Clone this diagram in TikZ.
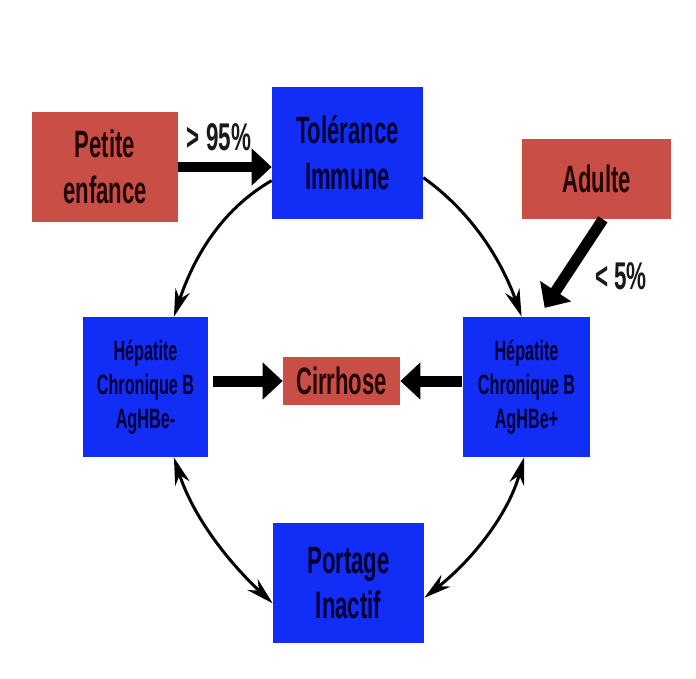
\documentclass[tikz,border=0pt]{standalone}
\usepackage{fontspec}
\setmainfont{Liberation Sans}[FakeStretch=0.58]
\usetikzlibrary{arrows.meta}
\definecolor{boxblue}{RGB}{18,45,245}
\definecolor{boxred}{RGB}{200,78,70}
\definecolor{inkblue}{RGB}{0,0,50}
\definecolor{inkred}{RGB}{35,6,6}
\definecolor{inkgray}{RGB}{25,25,25}
\begin{document}
\begin{tikzpicture}[x=0.02cm,y=-0.02cm,
    stage/.style={fill=boxblue,text=inkblue,inner sep=0pt,align=center,
      font=\bfseries\fontsize{21.7}{26}\selectfont},
    hepbox/.style={stage,minimum width=2.5cm,minimum height=2.8cm,
      font=\bfseries\fontsize{15.9}{19.3}\selectfont},
    sourcebox/.style={fill=boxred,text=inkred,inner sep=0pt,align=center,
      font=\bfseries\fontsize{21.7}{26}\selectfont},
    ratelabel/.style={text=inkgray,font=\bfseries\fontsize{22}{24}\selectfont},
    bigarrow/.style={line width=0.22cm,-{Triangle[length=0.4cm,width=0.72cm]}},
    cyclearrow/.style={line width=0.06cm,>={Stealth[length=0.55cm,width=0.3cm]}}]
    \useasboundingbox [fill=white] (0,0) rectangle (696,679);%

    % Drawing the source boxes
    \node [sourcebox,minimum width=2.92cm,minimum height=2.22cm] (pe) at (105,167) {Petite\\enfance};%
    \node [sourcebox,minimum width=2.98cm,minimum height=1.6cm] (ad) at (596.5,179) {Adulte};%
    \node [sourcebox,minimum width=2.34cm,minimum height=0.96cm] (cir) at (341.5,381) {Cirrhose};%

    % Drawing the stages
    \node [stage,minimum width=3.02cm,minimum height=2.64cm] (tol) at (347.5,153) {Tolérance\\Immune};%
    \node [hepbox] (hl) at (145.5,387) {Hépatite\\Chronique B\\AgHBe-};%
    \node [hepbox,minimum width=2.54cm] (hr) at (526.5,387) {Hépatite\\Chronique B\\AgHBe+};%
    \node [stage,minimum width=3.02cm,minimum height=2.4cm] (port) at (348.5,583) {Portage\\Inactif};%

    % Drawing the entry arrows
    \draw [bigarrow] (pe.east) -- (pe.east -| tol.west);%
    \node [ratelabel] (gt) at (219,137) {> 95\%};%
    \draw [bigarrow,shorten >=0.21cm] (ad.-81) -- (hr.80);%
    \node [ratelabel] (lt) at (621,276) {< 5\%};%

    % Drawing the arrows to Cirrhose
    \draw [bigarrow,shorten <=0.1cm] (hl.east |- cir.west) -- (cir.west);%
    \draw [bigarrow,shorten <=0.02cm] (hr.west |- cir.east) -- (cir.east);%

    % Drawing the cycle
    \draw [cyclearrow,->] (tol.200) .. controls +(-52,30) and +(19,-57) .. (hl.68);%
    \draw [cyclearrow,->] (tol.-18) .. controls +(49,35) and +(-20,-56) .. (hr.94);%
    \draw [cyclearrow,<->] (hl.-68) .. controls +(19,59) and +(-45,-42) .. (port.195);%
    \draw [cyclearrow,<->] (hr.-92) .. controls +(-16,58) and +(47,-37) .. (port.-11);%
\end{tikzpicture}
\end{document}
